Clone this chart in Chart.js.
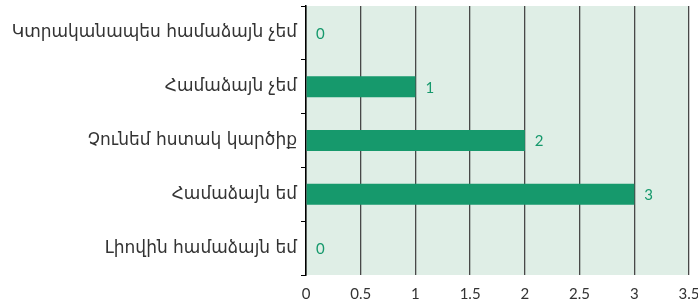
<!DOCTYPE html>
<html>
<head>
<meta charset="utf-8">
<script src="https://cdn.jsdelivr.net/npm/chart.js@4/dist/chart.umd.min.js"></script>
<style>
  html, body { margin: 0; padding: 0; background: #fff; overflow: hidden; }
  #wrap { width: 698px; height: 306px; }
</style>
</head>
<body>
<div id="wrap"><canvas id="chart"></canvas></div>
<script>
var categories = [
  'Կտրականապես համաձայն չեմ',
  'Համաձայն չեմ',
  'Չունեմ հստակ կարծիք',
  'Համաձայն եմ',
  'Լիովին համաձայն եմ'
];
var answerCounts = [0, 1, 2, 3, 0];
var xTickLabels = ['0', '0.5', '1', '1.5', '2', '2.5', '3', '3.5'];

// light green plot area
var plotBackground = {
  id: 'plotBackground',
  beforeDraw: function(chart) {
    var a = chart.chartArea, ctx = chart.ctx;
    ctx.save();
    ctx.fillStyle = '#dfeee6';
    ctx.fillRect(a.left, a.top, a.right - a.left, a.bottom - a.top);
    ctx.restore();
  }
};

// value written just after the end of each bar
var valueLabels = {
  id: 'valueLabels',
  afterDatasetsDraw: function(chart) {
    var ctx = chart.ctx;
    var meta = chart.getDatasetMeta(0);
    ctx.save();
    ctx.fillStyle = '#16996c';
    ctx.font = '15px Lato, "Open Sans", sans-serif';
    ctx.textAlign = 'left';
    ctx.textBaseline = 'middle';
    meta.data.forEach(function(bar, i) {
      ctx.fillText(String(answerCounts[i]), bar.x + 10, bar.y + 1);
    });
    ctx.restore();
  }
};

new Chart(document.getElementById('chart'), {
  type: 'bar',
  data: {
    labels: categories,
    datasets: [{
      data: answerCounts,
      backgroundColor: '#16996c',
      borderWidth: 0,
      barPercentage: 0.39,
      categoryPercentage: 1
    }]
  },
  options: {
    indexAxis: 'y',
    responsive: true,
    maintainAspectRatio: false,
    animation: false,
    layout: { padding: { top: 6 } },
    plugins: { legend: { display: false }, tooltip: { enabled: false } },
    scales: {
      x: {
        min: 0,
        max: 3.5,
        ticks: {
          stepSize: 0.5,
          padding: 10,
          color: '#333',
          font: { family: 'Lato, "Open Sans", sans-serif', size: 15 },
          callback: function(v, i) { return xTickLabels[i]; }
        },
        grid: { color: '#484848', lineWidth: 1.3, drawTicks: false },
        border: { display: false },
        afterFit: function(scale) {
          scale.height = 31;
          scale.paddingRight = 9; // let the last label run off the edge like the original
        }
      },
      y: {
        ticks: {
          padding: 4,
          color: '#333',
          font: { family: '"DejaVu Sans", sans-serif', size: 17 }
        },
        grid: { offset: true, drawOnChartArea: false, tickLength: 5, color: '#000' },
        border: { color: '#000', width: 1.5 },
        afterFit: function(scale) {
          scale.width = 306;
          scale.paddingTop = 0;
          scale.paddingBottom = 0;
        }
      }
    }
  },
  plugins: [plotBackground, valueLabels]
});
</script>
</body>
</html>
